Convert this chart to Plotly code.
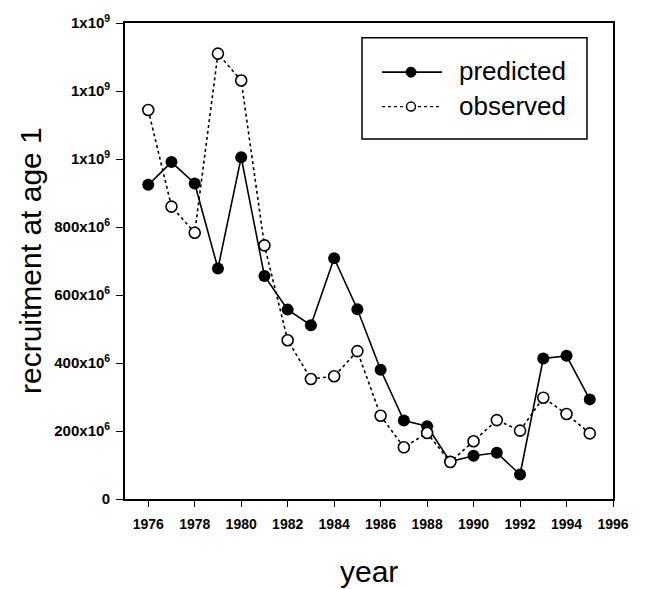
import plotly.graph_objects as go

# Recruitment at age 1, predicted vs observed
years = list(range(1976, 1996))
predicted = [924e6, 991e6, 928e6, 678e6, 1005e6, 656e6, 557e6, 511e6, 708e6, 558e6,
             380e6, 231e6, 214e6, 110e6, 127e6, 136e6, 72e6, 413e6, 421e6, 293e6]
observed = [1144e6, 860e6, 783e6, 1310e6, 1231e6, 746e6, 467e6, 353e6, 361e6, 435e6,
            245e6, 152e6, 194e6, 109e6, 170e6, 232e6, 201e6, 298e6, 250e6, 193e6]

x_ticks = list(range(1976, 1997, 2))
y_ticks = [0, 200e6, 400e6, 600e6, 800e6, 1000e6, 1200e6, 1400e6]
y_tick_text = ["0", "200x10<sup>6</sup>", "400x10<sup>6</sup>", "600x10<sup>6</sup>",
               "800x10<sup>6</sup>", "1x10<sup>9</sup>", "1x10<sup>9</sup>", "1x10<sup>9</sup>"]

FONT = "Liberation Sans, Arial, sans-serif"
W, H = 648, 589
ML, MR, MT, MB = 125, 35, 15, 90
PW, PH = W - ML - MR, H - MT - MB


def px(x):
    """Pixel column -> plot-area paper coordinate."""
    return (x - ML) / PW


def py(y):
    """Pixel row -> plot-area paper coordinate."""
    return (H - MB - y) / PH


fig = go.Figure()
fig.add_trace(go.Scatter(
    x=years, y=predicted, name="predicted", mode="lines+markers",
    line=dict(color="black", width=1.6),
    marker=dict(symbol="circle", size=12, color="black"),
))
fig.add_trace(go.Scatter(
    x=years, y=observed, name="observed", mode="lines+markers",
    line=dict(color="black", width=1.6, dash="dot"),
    marker=dict(symbol="circle", size=11, color="white",
                line=dict(color="black", width=1.6)),
))

axis_common = dict(
    showline=True, linecolor="black", linewidth=1.6, mirror=True,
    ticks="outside", tickcolor="black", tickwidth=1.4,
    showgrid=False, zeroline=False,
)

# Boxed key in the upper right
shapes = [
    dict(type="rect", xref="paper", yref="paper",
         x0=px(362), x1=px(587), y0=py(133), y1=py(30),
         line=dict(color="black", width=1.5), fillcolor="white"),
    dict(type="line", xref="paper", yref="paper",
         x0=px(382), x1=px(442), y0=py(65), y1=py(65),
         line=dict(color="black", width=1.6)),
    dict(type="line", xref="paper", yref="paper",
         x0=px(382), x1=px(442), y0=py(100), y1=py(100),
         line=dict(color="black", width=1.4, dash="dot")),
    dict(type="circle", xref="paper", yref="paper",
         xsizemode="pixel", ysizemode="pixel", xanchor=px(411), yanchor=py(65),
         x0=-5, x1=5, y0=-5, y1=5,
         line=dict(color="black", width=1), fillcolor="black"),
    dict(type="circle", xref="paper", yref="paper",
         xsizemode="pixel", ysizemode="pixel", xanchor=px(411), yanchor=py(100),
         x0=-4.5, x1=4.5, y0=-4.5, y1=4.5,
         line=dict(color="black", width=1.5), fillcolor="white"),
]

annotations = [
    dict(text="predicted", xref="paper", yref="paper", x=px(457), y=py(64),
         xanchor="left", yanchor="middle", showarrow=False,
         font=dict(family=FONT, size=26, color="black")),
    dict(text="observed", xref="paper", yref="paper", x=px(457), y=py(99),
         xanchor="left", yanchor="middle", showarrow=False,
         font=dict(family=FONT, size=26, color="black")),
    dict(text="year", xref="paper", yref="paper", x=0.5, y=py(573),
         xanchor="center", yanchor="middle", showarrow=False,
         font=dict(family=FONT, size=30, color="black")),
    dict(text="recruitment at age 1", xref="paper", yref="paper",
         x=px(30), y=0.5, xanchor="center", yanchor="middle",
         textangle=-90, showarrow=False,
         font=dict(family=FONT, size=30, color="black")),
]

fig.update_layout(
    width=W, height=H,
    margin=dict(l=ML, r=MR, t=MT, b=MB),
    paper_bgcolor="white", plot_bgcolor="white",
    font=dict(family=FONT, color="black"),
    showlegend=False,
    xaxis=dict(range=[1975, 1996], tickvals=x_ticks, ticklen=6,
               ticklabelstandoff=5,
               tickfont=dict(family=FONT, size=14, color="black", weight="bold"),
               **axis_common),
    yaxis=dict(range=[0, 1400e6], tickvals=y_ticks, ticktext=y_tick_text,
               ticklen=7, ticklabelstandoff=3,
               tickfont=dict(family=FONT, size=15, color="black", weight="bold"),
               **axis_common),
    shapes=shapes,
    annotations=annotations,
)

fig.write_html("out.html")
